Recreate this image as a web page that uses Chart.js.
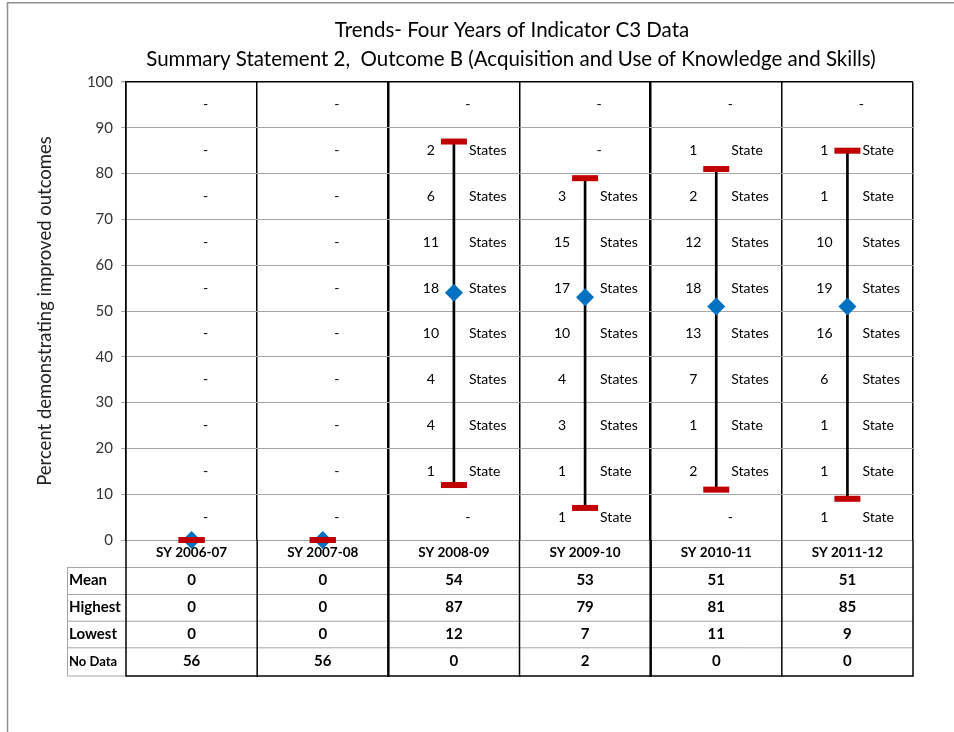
<!DOCTYPE html>
<html><head><meta charset="utf-8">
<script src="https://cdn.jsdelivr.net/npm/chart.js@4/dist/chart.umd.min.js"></script>
<style>html,body{margin:0;padding:0;background:#fff;}canvas{display:block;}</style>
</head><body>
<canvas id="c" width="954" height="732"></canvas>
<script>
const titleLines = ["Trends- Four Years of Indicator C3 Data", "Summary Statement 2,  Outcome B (Acquisition and Use of Knowledge and Skills)"];
const yAxisTitle = "Percent demonstrating improved outcomes";
const categories = ["SY 2006-07", "SY 2007-08", "SY 2008-09", "SY 2009-10", "SY 2010-11", "SY 2011-12"];
const meanValues = [0, 0, 54, 53, 51, 51];
const highestValues = [0, 0, 87, 79, 81, 85];
const lowestValues = [0, 0, 12, 7, 11, 9];
const noDataValues = [56, 56, 0, 2, 0, 0];
const tableRowLabels = ["Mean", "Highest", "Lowest", "No Data"];
// states per 10-point band, top band (90-100) first; null = "-"
const bandTops = [100, 90, 80, 70, 60, 50, 40, 30, 20, 10];
const counts2006 = [null, null, null, null, null, null, null, null, null, null];
const counts2007 = [null, null, null, null, null, null, null, null, null, null];
const counts2008 = [null, 2, 6, 11, 18, 10, 4, 4, 1, null];
const counts2009 = [null, null, 3, 15, 17, 10, 4, 3, 1, 1];
const counts2010 = [null, 1, 2, 12, 18, 13, 7, 1, 2, null];
const counts2011 = [null, 1, 1, 10, 19, 16, 6, 1, 1, 1];
const bandCounts = [counts2006, counts2007, counts2008, counts2009, counts2010, counts2011];

const FONT = "Lato, 'Open Sans', sans-serif";

const bandLabelPlugin = {
  id: 'bandLabels',
  beforeDatasetsDraw(chart) {
    const {ctx, scales: {x, y}} = chart;
    ctx.save();
    ctx.fillStyle = '#000';
    ctx.font = "14px " + FONT;
    ctx.textBaseline = 'middle';
    bandCounts.forEach((arr, i) => {
      const cx = x.getPixelForValue(i);
      arr.forEach((c, b) => {
        const py = y.getPixelForValue(bandTops[b] - 5);
        if (c === null) {
          ctx.textAlign = 'center';
          ctx.fillText('-', cx + 14, py);
        } else {
          ctx.textAlign = 'center';
          ctx.fillText(String(c), cx - 23, py);
          ctx.textAlign = 'left';
          ctx.fillText(c === 1 ? 'State' : 'States', cx + 15, py);
        }
      });
    });
    ctx.restore();
  }
};

const tablePlugin = {
  id: 'dataTable',
  afterDraw(chart) {
    const {ctx, chartArea, scales: {x}} = chart;
    const rows = [meanValues, highestValues, lowestValues, noDataValues];
    const rowTops = [567, 594, 620.7, 647.3, 676];
    const labelLeft = 67;
    ctx.save();
    // outer frame
    ctx.strokeStyle = '#909090';
    ctx.lineWidth = 1.5;
    ctx.beginPath();
    ctx.moveTo(7.5, 740); ctx.lineTo(7.5, 2.7); ctx.lineTo(960, 2.7);
    ctx.stroke();
    // title
    ctx.fillStyle = '#000';
    ctx.font = "20.5px " + FONT;
    ctx.textAlign = 'center';
    ctx.textBaseline = 'middle';
    ctx.fillText(titleLines[0], 512, 30);
    ctx.fillText(titleLines[1], 511, 59);
    // table horizontal lines
    ctx.strokeStyle = '#a6a6a6';
    ctx.lineWidth = 1;
    for (let r = 0; r < 4; r++) {
      ctx.beginPath();
      ctx.moveTo(labelLeft, rowTops[r] + 0.5);
      ctx.lineTo(chartArea.right, rowTops[r] + 0.5);
      ctx.stroke();
    }
    ctx.beginPath();
    ctx.moveTo(labelLeft + 0.5, rowTops[0]);
    ctx.lineTo(labelLeft + 0.5, rowTops[4]);
    ctx.lineTo(chartArea.left, rowTops[4]);
    ctx.stroke();
    // bottom border
    ctx.strokeStyle = '#000';
    ctx.lineWidth = 1.5;
    ctx.beginPath();
    ctx.moveTo(chartArea.left, rowTops[4]);
    ctx.lineTo(chartArea.right, rowTops[4]);
    ctx.stroke();
    // column lines through header + table
    for (let i = 0; i <= categories.length; i++) {
      const px = x.getPixelForValue(i - 0.5);
      ctx.lineWidth = (i === 2 || i === 4) ? 2.5 : 1.5;
      ctx.beginPath();
      ctx.moveTo(px, chartArea.bottom);
      ctx.lineTo(px, rowTops[4] + 0.75);
      ctx.stroke();
    }
    // row labels
    ctx.fillStyle = '#000';
    ctx.textBaseline = 'middle';
    ctx.textAlign = 'left';
    tableRowLabels.forEach((lab, r) => {
      const cy = (rowTops[r] + rowTops[r + 1]) / 2;
      ctx.font = (r === 3 ? "bold 13px " : "bold 15px ") + FONT;
      ctx.fillText(lab, 69, cy);
    });
    // values
    ctx.textAlign = 'center';
    ctx.font = "bold 15px " + FONT;
    rows.forEach((vals, r) => {
      const cy = (rowTops[r] + rowTops[r + 1]) / 2;
      vals.forEach((v, i) => ctx.fillText(String(v), x.getPixelForValue(i), cy));
    });
    ctx.restore();
  }
};

new Chart(document.getElementById('c'), {
  type: 'bar',
  data: {
    labels: categories,
    datasets: [
      {type: 'line', label: 'Highest', data: highestValues, showLine: false, pointStyle: 'line', pointRadius: 13, pointBorderWidth: 6, pointBorderColor: '#C00000', borderColor: '#C00000', pointBackgroundColor: '#C00000', order: 0, clip: false},
      {type: 'line', label: 'Lowest', data: lowestValues, showLine: false, pointStyle: 'line', pointRadius: 13, pointBorderWidth: 6, pointBorderColor: '#C00000', borderColor: '#C00000', pointBackgroundColor: '#C00000', order: 0, clip: false},
      {type: 'line', label: 'Mean', data: meanValues, showLine: false, pointStyle: 'rectRot', pointRadius: 9, pointBorderWidth: 0, pointBackgroundColor: '#0070C0', pointBorderColor: '#0070C0', order: 1, clip: false},
      {type: 'bar', label: 'Range', data: lowestValues.map((l, i) => [l, highestValues[i]]), backgroundColor: '#000', barThickness: 2, order: 2, clip: false}
    ]
  },
  options: {
    responsive: false,
    animation: false,
    devicePixelRatio: 1,
    layout: {padding: {top: 82, right: 41, bottom: 165, left: 0}},
    plugins: {legend: {display: false}, tooltip: {enabled: false}, title: {display: false}},
    scales: {
      x: {
        grid: {offset: true, color: '#000', lineWidth: c => (c.index === 2 || c.index === 4) ? 2.5 : 1.5, drawTicks: false},
        border: {display: false},
        ticks: {font: {family: FONT, weight: 'bold', size: 13.5}, color: '#000', padding: 5},
        afterFit(s) { s.height = 27; }
      },
      y: {
        min: 0, max: 100,
        ticks: {stepSize: 10, font: {family: FONT, size: 15}, color: '#333', padding: 8},
        grid: {
          color: c => (c.tick && c.tick.value === 100) ? '#000' : '#a6a6a6',
          lineWidth: c => (c.tick && c.tick.value === 100) ? 1.5 : 1,
          tickLength: 5, tickColor: '#a6a6a6'
        },
        border: {color: '#000', width: 1.5},
        title: {display: true, text: yAxisTitle, font: {family: FONT, size: 18.5}, color: '#222', padding: {top: 34, bottom: 0}},
        afterFit(s) { s.width = 126; }
      }
    }
  },
  plugins: [bandLabelPlugin, tablePlugin]
});
</script>
</body></html>
